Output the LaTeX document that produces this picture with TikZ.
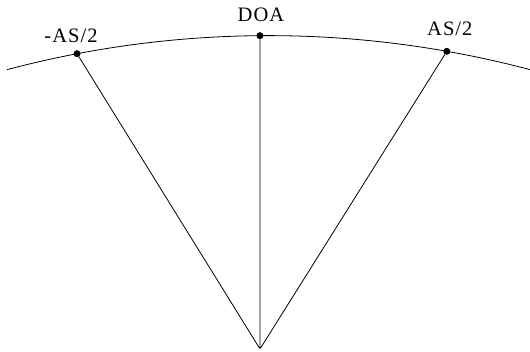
\documentclass[tikz,border=0pt]{standalone}
\usepackage{fontspec}
\setmainfont{Liberation Serif}
\usepackage{tikz}
\usetikzlibrary{calc}
\tikzstyle{edge} = [draw,line width=0.8pt]
\tikzstyle{dot} = [circle,fill=black,inner sep=0pt,minimum size=7pt]
\tikzstyle{lbl} = [anchor=base,inner sep=0pt,font=\fontsize{20.5}{24}\selectfont\addfontfeatures{LetterSpace=5}]

\begin{document}
\begin{tikzpicture}[x=1pt,y=1pt]
    \useasboundingbox (0,0) rectangle (530,352);
    \coordinate (c) at (268.5,-705.6);
    \node[inner sep=0pt] (o) at (260,3) {};
    \draw[edge] ([shift={(104.83:1022pt)}]c) arc[start angle=104.83, end angle=75.1, radius=1022pt];
    \node[dot] (l) at ([shift={(100.8:1022pt)}]c) {};
    \node[dot] (m) at ([shift={(90.48:1022pt)}]c) {};
    \node[dot] (r) at ([shift={(79.95:1022pt)}]c) {};
    \node[lbl] (ltxt) at ($(l)+(-6,11)$) {-AS/2};
    \node[lbl] (mtxt) at ($(m)+(1,14)$) {DOA};
    \node[lbl] (rtxt) at ($(r)+(3,16)$) {AS/2};
    \draw[edge]
    (o) -- (l)
    (o) -- (m)
    (o) -- (r)
    ;
\end{tikzpicture}
\end{document}
